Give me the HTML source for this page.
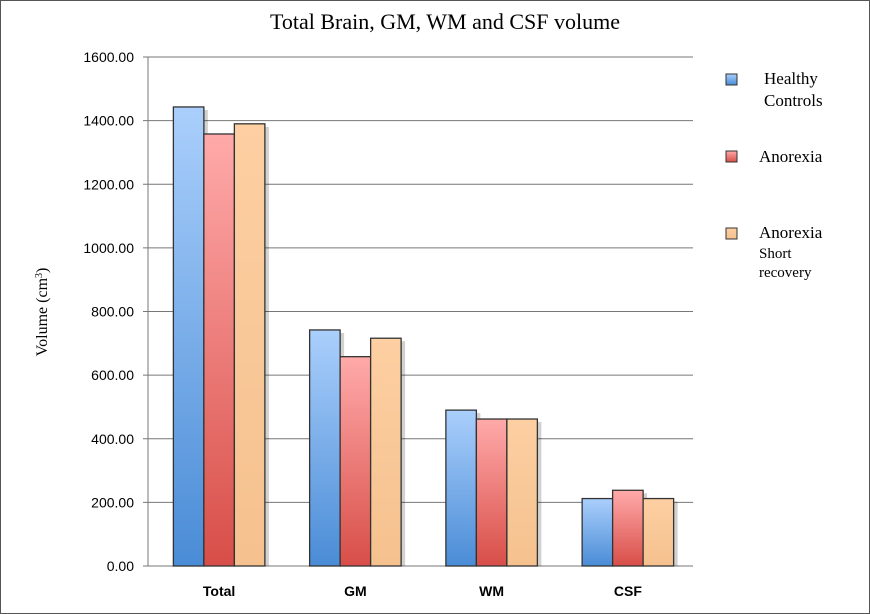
<!DOCTYPE html>
<html><head><meta charset="utf-8"><style>
body{margin:0;background:#fff;}
svg{display:block;font-family:"Liberation Serif",serif;}
</style></head><body>
<svg id="chart" width="870" height="614" viewBox="0 0 870 614">
<defs>
<linearGradient id="gB" x1="0" y1="0" x2="0" y2="1"><stop offset="0" stop-color="#aacffc"/><stop offset="1" stop-color="#4a8cd6"/></linearGradient>
<linearGradient id="gR" x1="0" y1="0" x2="0" y2="1"><stop offset="0" stop-color="#ffaaaa"/><stop offset="1" stop-color="#d84e48"/></linearGradient>
<linearGradient id="gO" x1="0" y1="0" x2="0" y2="1"><stop offset="0" stop-color="#fdcfa2"/><stop offset="1" stop-color="#f5c18e"/></linearGradient>
</defs>
<rect x="0.5" y="0.5" width="869" height="613" fill="#fff" stroke="#555"/>
<text x="445" y="29" text-anchor="middle" font-size="22">Total Brain, GM, WM and CSF volume</text>
<text transform="translate(47,312) rotate(-90)" text-anchor="middle" font-size="16">Volume (cm<tspan baseline-shift="super" font-size="10">3</tspan>)</text>
<g id="grid"></g><g id="bars"></g><g id="xlabels"></g>
<g>
<g><rect x="726" y="74" width="11" height="11" fill="url(#gB)" stroke="#333"/><text x="764" y="84" font-size="17">Healthy</text><text x="764" y="106" font-size="17">Controls</text></g>
<g><rect x="726" y="151" width="11" height="11" fill="url(#gR)" stroke="#333"/><text x="759" y="162" font-size="17">Anorexia</text></g>
<g><rect x="726" y="228" width="11" height="11" fill="url(#gO)" stroke="#333"/><text x="759" y="238" font-size="17">Anorexia</text><text x="759" y="258" font-size="15">Short</text><text x="759" y="277" font-size="15">recovery</text></g>
</g>
</svg>
<script>
const categories=["Total","GM","WM","CSF"];
const healthy=[1443,742,490,212];
const anorexia=[1358,658,462,238];
const shortRecovery=[1390,716,462,212];
const ticks=[0,200,400,600,800,1000,1200,1400,1600];
const NS="http://www.w3.org/2000/svg";
const x0=148,x1=693,y0=566,y1=57,yMax=1600;
const yS=v=>y0-(v/yMax)*(y0-y1);
const gw=(x1-x0)/categories.length;
const xC=i=>x0+gw*(i+0.5)+3;
function mk(t,a,p){const e=document.createElementNS(NS,t);for(const k in a)e.setAttribute(k,a[k]);p.appendChild(e);return e;}
const grid=document.getElementById('grid');
ticks.forEach(t=>{
 const l=mk('line',{x1:x0-5,x2:x1,y1:yS(t),y2:yS(t),stroke:'#777','stroke-width':1},grid);
 
 
 const tx=mk('text',{x:x0-14,y:yS(t)+5,'text-anchor':'end','font-size':14,'font-family':'Liberation Sans, sans-serif'},grid);
 tx.textContent=t.toFixed(2);
 
 
});
mk('line',{x1:x0,x2:x0,y1:y1,y2:y0,stroke:'#777'},grid);
const bars=document.getElementById('bars'),xl=document.getElementById('xlabels');
const series=[[healthy,'url(#gB)','healthy'],[anorexia,'url(#gR)','anorexia'],[shortRecovery,'url(#gO)','short-recovery']];
const bw=30.5;
categories.forEach((c,i)=>{
 series.forEach((s,j)=>{
  const x=xC(i)-1.5*bw+j*bw,y=yS(s[0][i]);
  mk('rect',{x:x+4,y:y+3,width:bw,height:y0-y-3,fill:'rgba(0,0,0,0.18)'},bars);
  const r=mk('rect',{x:x,y:y,width:bw,height:y0-y,fill:s[1],stroke:'#333','stroke-width':1.3},bars);
  
  
 });
 const t=mk('text',{x:xC(i),y:596,'text-anchor':'middle','font-size':14,'font-weight':'bold','font-family':'Liberation Sans, sans-serif'},xl);
 t.textContent=c;
 
 
});
</script>
</body></html>
